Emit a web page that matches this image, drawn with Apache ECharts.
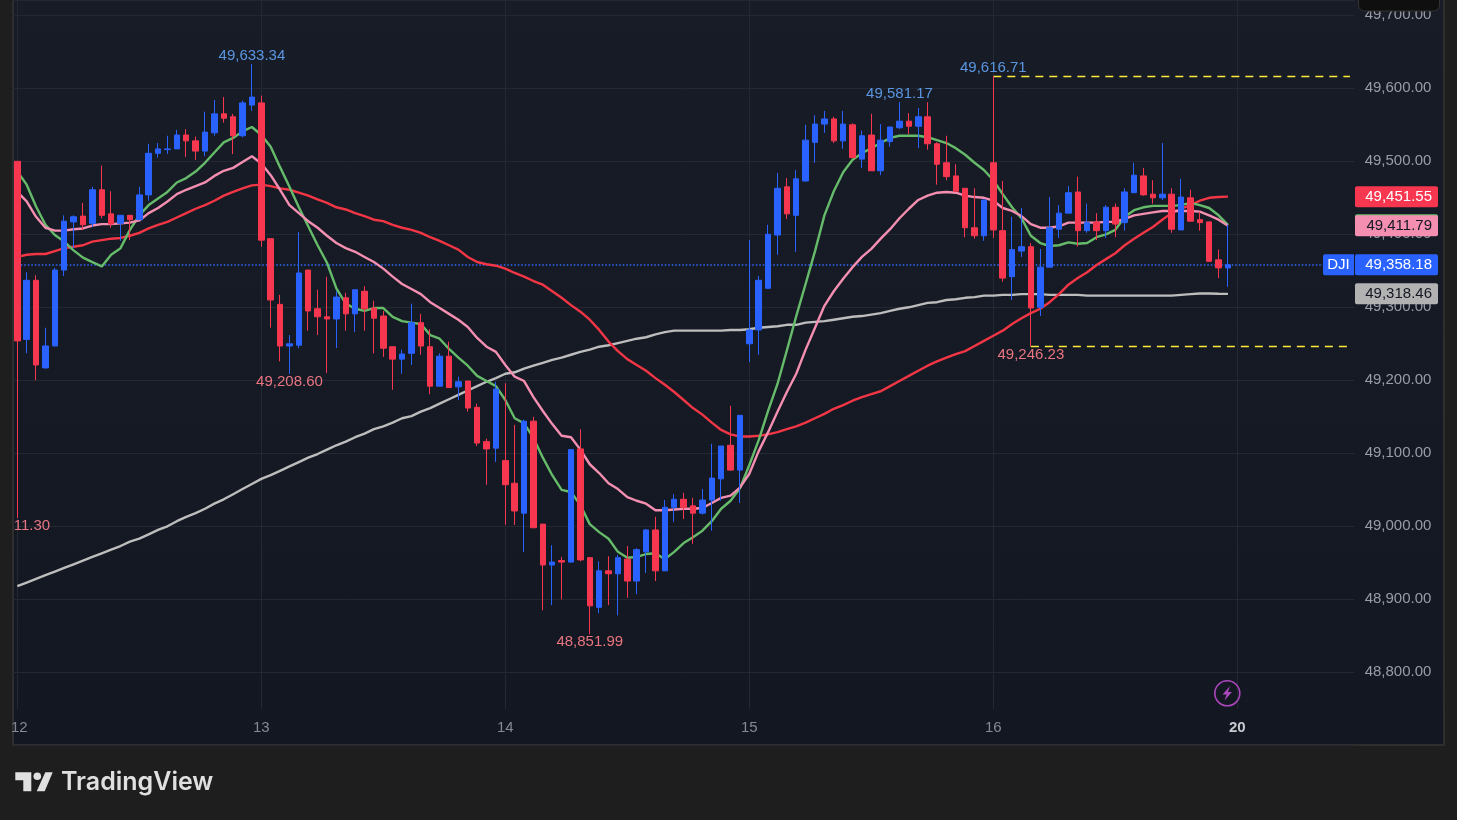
<!DOCTYPE html>
<html><head><meta charset="utf-8"><title>DJI</title>
<style>html,body{margin:0;padding:0;background:#1e1e1e}#c{width:1457px;height:820px}</style>
<script src="https://cdn.jsdelivr.net/npm/echarts@6/dist/echarts.min.js"></script>
</head><body><div id="c"></div>
<script>
const dayLabels = {0:'12',26:'13',52:'14',78:'15',104:'16',130:'20'};
const yTicks = [48800,48900,49000,49100,49200,49300,49400,49500,49600,49700];
// 15-minute bars: open, close, low, high
const opens = [49500,49256,49337,49217,49247,49351,49417,49425,49415,49461,49428,49415,49426,49420,49454,49511,49516,49517,49536,49528,49514,49539,49565,49561,49535,49577,
49580,49394,49304,49247,49248,49351,49298,49287,49284,49313,49291,49322,49299,49288,49246,49229,49237,49279,49246,49192,49233,49191,49199,49163,49116,49107,
49090,49059,49018,49144,49003,48947,48953,48951,49106,48957,48889,48939,48935,48955,48925,48965,48995,48939,49026,49037,49028,49018,49036,49065,49111,49077,
49250,49269,49326,49399,49465,49426,49473,49526,49551,49558,49528,49550,49503,49536,49487,49527,49546,49555,49548,49561,49524,49498,49480,49463,49409,49398,
49498,49405,49342,49377,49383,49300,49355,49407,49429,49458,49405,49417,49405,49437,49416,49457,49480,49455,49450,49455,49406,49450,49420,49417,49365,49354];
const closes = [49254,49337,49221,49247,49351,49418,49424,49413,49461,49426,49414,49426,49420,49454,49511,49517,49517,49536,49528,49514,49540,49565,49559,49535,49580,49588,
49392,49310,49247,49250,49347,49295,49287,49284,49314,49291,49324,49298,49285,49244,49229,49236,49279,49247,49192,49233,49190,49198,49162,49114,49106,49188,
49057,49021,49144,48998,48947,48951,48951,49105,48954,48891,48939,48935,48957,48925,48968,48995,48939,49026,49037,49026,49018,49036,49066,49110,49077,49152,
49269,49337,49400,49463,49428,49476,49529,49551,49558,49528,49551,49505,49535,49487,49529,49547,49555,49548,49561,49524,49496,49479,49459,49409,49398,49447,
49406,49340,49379,49383,49299,49355,49409,49429,49457,49405,49416,49405,49437,49414,49458,49481,49454,49450,49455,49407,49451,49418,49416,49363,49354,49358.18];
const lows = [49011.3,49237,49200,49216,49247,49343,49381,49406,49410,49422,49409,49391,49392,49420,49446,49505,49510,49517,49506,49502,49507,49535,49553,49510,49533,49569,
49383,49272,49226,49208.6,49244,49268,49262,49210,49244,49268,49266,49268,49237,49232,49187,49209,49221,49235,49181,49192,49190,49173,49157,49110,49057,49088,
49002,49002,48965,48998,48885,48892,48900,48950,48952,48851.99,48881,48892,48878,48902,48907,48936,48925,48939,49006,49010,48976,49016,48994,49035,49076,49032,
49225,49235,49326,49372,49421,49376,49472,49498,49539,49525,49517,49505,49491,49487,49481,49520,49544,49537,49518,49516,49468,49474,49459,49396,49394,49391,
49395,49335,49310,49369,49246.23,49288,49355,49395,49429,49383,49402,49392,49395,49396,49405,49457,49453,49442,49447,49402,49406,49418,49405,49363,49340,49328];
const highs = [49500,49348,49344,49272,49354,49426,49426,49443,49465,49494,49459,49426,49426,49465,49524,49525,49535,49543,49544,49534,49568,49584,49588,49565,49583,49633.34,
49590,49394,49317,49262,49403,49351,49324,49342,49322,49320,49324,49329,49309,49295,49246,49242,49305,49291,49270,49237,49253,49205,49199,49168,49120,49198,
49196,49139,49146,49150,49003,48974,48958,49106,49133,48958,48952,48959,48961,48973,48970,48996,49013,49036,49044,49046,49039,49051,49113,49110,49165,49152,
49392,49343,49413,49484,49477,49488,49550,49563,49569,49561,49569,49552,49542,49565,49551,49547,49581.17,49566,49573,49581,49526,49535,49496,49463,49463,49447,
49616.71,49473,49424,49436,49388,49380,49451,49440,49466,49479,49442,49429,49440,49442,49463,49498,49491,49474,49525,49463,49476,49461,49431,49417,49379,49413];
const greenLine = [49486,49468,49438,49413,49399,49390,49378,49368,49362,49356,49372,49381,49406,49426,49440,49449,49458,49471,49477,49486,49498,49512,49526,49532,49541,49547,
49536,49520,49492,49465,49437,49411,49385,49361,49326,49305,49298,49295,49299,49299,49287,49281,49279,49277,49262,49257,49243,49231,49220,49206,49199,49192,
49173,49148,49141,49121,49094,49070,49050,49047,49029,49003,48992,48983,48965,48957,48958,48962,48963,48955,48965,48977,48985,48994,49007,49024,49035,49052,
49084,49118,49158,49195,49241,49288,49332,49377,49426,49459,49485,49502,49511,49518,49525,49532,49535,49535,49535,49533,49529,49525,49518,49509,49498,49488,
49474,49455,49437,49422,49398,49388,49384,49385,49389,49387,49388,49396,49400,49406,49424,49433,49437,49439,49439,49439,49440,49443,49440,49436,49426,49413];
const pinkLine = [49458,49445,49424,49409,49405,49405,49407,49408,49412,49414,49414,49415,49416,49419,49429,49436,49445,49455,49461,49466,49471,49480,49487,49491,49499,49507,
49497,49481,49461,49440,49429,49418,49409,49398,49388,49381,49376,49369,49362,49353,49342,49332,49325,49318,49307,49299,49291,49283,49273,49258,49246,49239,
49221,49205,49199,49177,49158,49140,49124,49122,49105,49085,49073,49059,49051,49040,49035,49031,49022,49022,49023,49024,49024,49025,49032,49039,49042,49053,
49072,49103,49129,49157,49184,49209,49242,49272,49302,49322,49339,49355,49369,49380,49394,49407,49422,49435,49447,49453,49457,49458,49457,49453,49451,49450,
49446,49436,49432,49425,49414,49409,49409,49411,49416,49416,49416,49416,49417,49417,49421,49426,49428,49430,49432,49432,49432,49432,49431,49426,49420,49411.79];
const redLine = [49369,49372,49373,49373,49377,49381,49383,49385,49390,49392,49394,49395,49398,49402,49408,49413,49417,49423,49429,49435,49440,49446,49453,49458,49463,49467,
49468,49466,49463,49461,49457,49453,49448,49443,49437,49434,49429,49425,49420,49418,49413,49409,49406,49402,49396,49391,49385,49379,49369,49362,49359,49357,
49353,49347,49342,49336,49331,49322,49313,49303,49294,49283,49269,49253,49240,49229,49221,49213,49203,49194,49184,49173,49162,49153,49142,49132,49126,49123,
49123,49124,49126,49129,49133,49137,49142,49148,49154,49161,49166,49172,49177,49181,49185,49192,49199,49206,49213,49220,49226,49231,49236,49240,49247,49254,
49261,49268,49277,49285,49292,49298,49307,49318,49331,49340,49348,49358,49366,49374,49385,49394,49402,49410,49420,49429,49435,49440,49446,49450,49451,49451.55];
const grayLine = [48918,48923,48928,48933,48938,48943,48948,48953,48958,48963,48968,48973,48979,48983,48989,48995,49000,49007,49013,49018,49024,49031,49037,49044,49051,49058,
49065,49070,49076,49082,49088,49094,49099,49105,49111,49116,49122,49127,49133,49137,49142,49148,49151,49157,49162,49168,49174,49180,49186,49192,49198,49203,
49209,49211,49216,49220,49224,49228,49231,49235,49239,49242,49246,49248,49251,49254,49257,49259,49263,49266,49268,49268,49268,49268,49268,49268,49269,49269,
49270,49272,49273,49274,49276,49276,49279,49280,49281,49283,49285,49287,49288,49290,49292,49295,49298,49300,49303,49306,49307,49310,49311,49313,49314,49316,
49316,49317,49317,49318,49318,49318,49317,49317,49317,49317,49316,49316,49316,49316,49316,49316,49316,49316,49316,49316,49317,49318,49319,49319,49318.5,49318.46];
const lastPrice = 49358.18;
const tags = [
  {value:49413,    text:'',          bg:'#66bb6a', fg:'#fff'},
  {value:49451.55, text:'49,451.55', bg:'#f7374f', fg:'#ffffff'},
  {value:49411.79, text:'49,411.79', bg:'#f48fb1', fg:'#131722'},
  {value:49358.18, text:'49,358.18', bg:'#2962ff', fg:'#ffffff'},
  {value:49318.46, text:'49,318.46', bg:'#b2b2b2', fg:'#131722'}
];
const highMarks = [[25,49633.34,'49,633.34'],[94,49581.17,'49,581.17'],[104,49616.71,'49,616.71']];
const lowMarks = [[0,49011.30,'49,011.30'],[29,49208.60,'49,208.60'],[61,48851.99,'48,851.99'],[108,49246.23,'49,246.23']];
const yellowLines = [[104,49616.71],[108,49246.23]];

const FONT = '"Liberation Sans", Arial, sans-serif';
const step = 9.385, slots = 143, yMin = 48700, yMaxVisible = 49720.96;
const cats = Array.from({length:slots},(_,i)=>String(i));
const candles = opens.map((o,i)=>[o,closes[i],lows[i],highs[i]]);
const chart = echarts.init(document.getElementById('c'));
const lineS = (data,color)=>({type:'line',data,xAxisIndex:0,yAxisIndex:0,symbol:'none',z:2,silent:true,
  lineStyle:{color,width:2.4},animation:false});
const markLabel = (m,color,dy)=>({coord:[m[0],m[1]],symbol:'circle',symbolSize:1,itemStyle:{color:'rgba(0,0,0,0)'},
  label:{show:true,formatter:m[2],color,fontFamily:FONT,fontSize:15,position:'inside',offset:[0,dy]}});
const yellowStyle = {color:'#ffeb3b',type:[8,6],width:1.4};
chart.setOption({
  animation:false,
  backgroundColor:'#1e1e1e',
  grid:[
    {left:12.6,width:step*slots,top:0,height:(yMaxVisible-yMin)*0.73},
    {left:17.3,width:step*(slots-1),top:0,height:709}
  ],
  xAxis:[
    {type:'category',gridIndex:0,data:cats,axisLine:{show:false},axisTick:{show:false},axisLabel:{show:false},splitLine:{show:false}},
    {type:'category',gridIndex:1,data:cats,boundaryGap:false,position:'bottom',axisLine:{show:false},axisTick:{show:false},
      splitLine:{show:true,interval:(i)=>dayLabels[i]!==undefined,lineStyle:{color:'#242833',width:1}},
      axisLabel:{show:true,interval:(i)=>dayLabels[i]!==undefined,margin:11,fontFamily:FONT,fontSize:15,color:'#868993',
        hideOverlap:false,showMinLabel:true,
        formatter:(v,i)=>dayLabels[i]==='20'?'{b|20}':(i===0?'{a|12}':(dayLabels[i]||'')),
        rich:{a:{color:'#868993',fontFamily:FONT,fontSize:15,padding:[0,0,0,4]},
              b:{color:'#c8cad0',fontWeight:'bold',fontFamily:FONT,fontSize:15}}}}
  ],
  yAxis:[
    {type:'value',gridIndex:0,position:'right',min:yMin,max:yMaxVisible,interval:100,axisLine:{show:false},axisTick:{show:false},
      splitLine:{show:true,lineStyle:{color:'#242833',width:1}},
      axisLabel:{margin:10,color:'#9a9da6',fontFamily:FONT,fontSize:15,showMinLabel:false,
        formatter:v=>yTicks.includes(v)?v.toLocaleString('en-US',{minimumFractionDigits:2}):''}},
    {type:'value',gridIndex:1,min:0,max:1,show:false}
  ],
  series:[
    lineS(grayLine,'#bdbdbd'),
    lineS(redLine,'#f23645'),
    lineS(greenLine,'#66bb6a'),
    lineS(pinkLine,'#f48fb1'),
    {type:'candlestick',xAxisIndex:0,yAxisIndex:0,data:candles,barWidth:6,z:3,silent:true,clip:false,
      itemStyle:{color:'#2962ff',color0:'#f7374f',borderColor:'#2962ff',borderColor0:'#f7374f',borderWidth:1},
      markLine:{silent:true,symbol:'none',animation:false,label:{show:false},z:1,data:[
        [{coord:[0,lastPrice]},{coord:[slots-1,lastPrice]}]
      ].concat(yellowLines.map(l=>[{coord:[l[0],l[1]],lineStyle:yellowStyle},{coord:[slots-1,l[1]],lineStyle:yellowStyle}])),
        lineStyle:{color:'#2f6bff',type:[1.5,2],width:1.6}},
      markPoint:{silent:true,animation:false,z:6,data:
        highMarks.map(m=>markLabel(m,'#5a96e0',-8)).concat(lowMarks.map(m=>markLabel(m,'#e87580',8)))}
    }
  ]
});

const py = v=>chart.convertToPixel({yAxisIndex:0},v);
const tagEls = [];
tags.forEach(t=>{
  const c = py(t.value);
  tagEls.push({type:'rect',z:100,shape:{x:1355,y:c-10.5,width:83,height:21,r:2},style:{fill:t.bg}});
  if(t.text) tagEls.push({type:'text',z:101,x:1432,y:c,style:{text:t.text,fill:t.fg,font:'15px '+FONT,textAlign:'right',textVerticalAlign:'middle'}});
  if(t.value===lastPrice){
    tagEls.push({type:'rect',z:100,shape:{x:1323,y:c-10.5,width:31,height:21,r:[2,0,0,2]},style:{fill:t.bg}});
    tagEls.push({type:'text',z:101,x:1338.5,y:c,style:{text:'DJI',fill:'#ffffff',font:'15px '+FONT,textAlign:'center',textVerticalAlign:'middle'}});
  }
});
chart.setOption({graphic:[{elements:[
  {type:'rect',z:-10,shape:{x:13,y:-2,width:1431,height:747},
   style:{fill:new echarts.graphic.LinearGradient(0,0,0,1,[{offset:0,color:'#181c27'},{offset:1,color:'#131722'}]),stroke:'#2e2e2e',lineWidth:2}},
  {type:'rect',z:90,shape:{x:0,y:0,width:12,height:820},style:{fill:'#1e1e1e'}},
  {type:'rect',z:90,shape:{x:12,y:512,width:2,height:26},style:{fill:'#2e2e2e'}},
  {type:'rect',z:90,shape:{x:1358.5,y:-8,width:81,height:19,r:6},style:{fill:'#0f0f0f',stroke:'#333333',lineWidth:1}},
  {type:'circle',z:90,shape:{cx:1227.3,cy:693.3,r:12.5},style:{fill:'rgba(0,0,0,0)',stroke:'#ab47bc',lineWidth:1.6}},
  {type:'polygon',z:90,shape:{points:[[1230,686],[1222.5,694.5],[1226.5,694.5],[1224.5,700.5],[1232,692],[1228,692]]},style:{fill:'#ab47bc'}},
  {type:'polygon',z:90,shape:{points:[[15.3,772.3],[31.3,772.3],[31.3,791.3],[23.3,791.3],[23.3,780.3],[15.3,780.3]]},style:{fill:'#e0e0e0'}},
  {type:'circle',z:90,shape:{cx:37.3,cy:776.3,r:3.8},style:{fill:'#e0e0e0'}},
  {type:'polygon',z:90,shape:{points:[[45.3,772.3],[52.7,772.3],[44.7,791.3],[36.7,791.3]]},style:{fill:'#e0e0e0'}},
  {type:'text',z:90,x:61,y:782,style:{text:'TradingView',fill:'#e0e0e0',font:'600 25px Inter, sans-serif',textVerticalAlign:'middle'}}
].concat(tagEls)}]});
</script></body></html>
